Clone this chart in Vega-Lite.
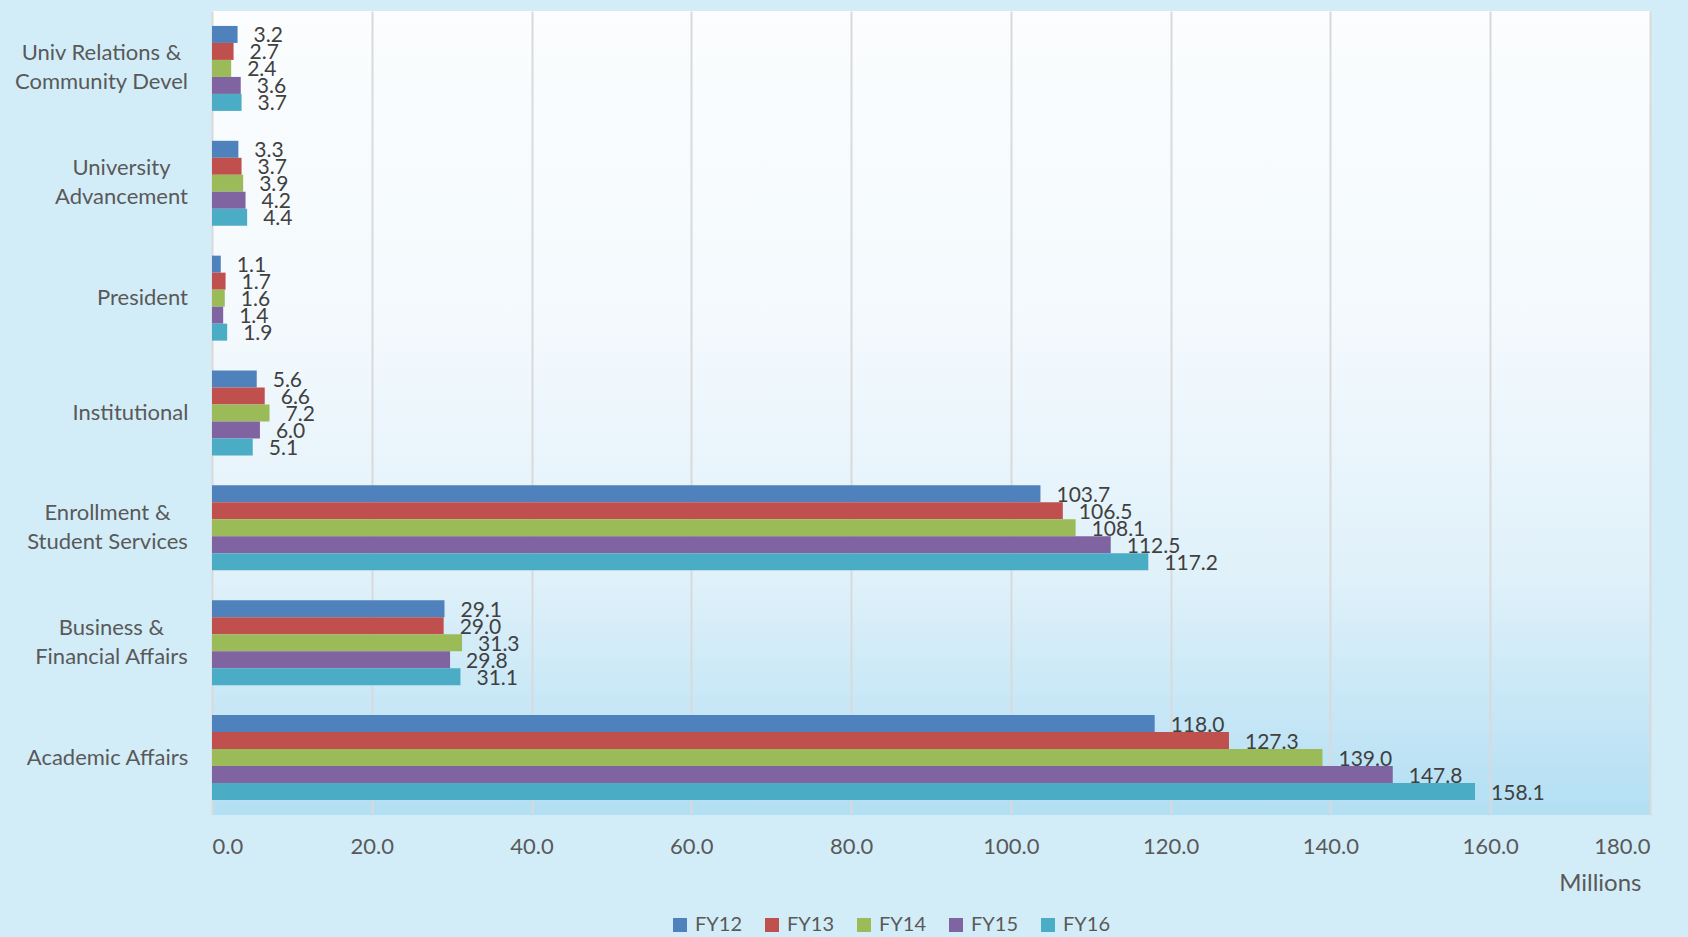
{
  "$schema": "https://vega.github.io/schema/vega-lite/v6.json",
  "width": 1438,
  "height": 804,
  "autosize": {"type": "none"},
  "padding": {"left": 212, "top": 11, "right": 38, "bottom": 122},
  "background": "#d3edf8",
  "config": {
    "font": "Lato",
    "view": {
      "stroke": null,
      "fill": {"gradient": "linear", "x1": 0, "y1": 0, "x2": 0, "y2": 1,
        "stops": [
          {"offset": 0, "color": "#fbfdfe"},
          {"offset": 0.4, "color": "#f3f9fd"},
          {"offset": 0.7, "color": "#e0f1fa"},
          {"offset": 1, "color": "#b3dff3"}
        ]}
    }
  },
  "data": {
    "values": [
      {"unit": "Univ Relations & Community Devel", "fy": "FY12", "value": 3.2},
      {"unit": "Univ Relations & Community Devel", "fy": "FY13", "value": 2.7},
      {"unit": "Univ Relations & Community Devel", "fy": "FY14", "value": 2.4},
      {"unit": "Univ Relations & Community Devel", "fy": "FY15", "value": 3.6},
      {"unit": "Univ Relations & Community Devel", "fy": "FY16", "value": 3.7},
      {"unit": "University Advancement", "fy": "FY12", "value": 3.3},
      {"unit": "University Advancement", "fy": "FY13", "value": 3.7},
      {"unit": "University Advancement", "fy": "FY14", "value": 3.9},
      {"unit": "University Advancement", "fy": "FY15", "value": 4.2},
      {"unit": "University Advancement", "fy": "FY16", "value": 4.4},
      {"unit": "President", "fy": "FY12", "value": 1.1},
      {"unit": "President", "fy": "FY13", "value": 1.7},
      {"unit": "President", "fy": "FY14", "value": 1.6},
      {"unit": "President", "fy": "FY15", "value": 1.4},
      {"unit": "President", "fy": "FY16", "value": 1.9},
      {"unit": "Institutional", "fy": "FY12", "value": 5.6},
      {"unit": "Institutional", "fy": "FY13", "value": 6.6},
      {"unit": "Institutional", "fy": "FY14", "value": 7.2},
      {"unit": "Institutional", "fy": "FY15", "value": 6.0},
      {"unit": "Institutional", "fy": "FY16", "value": 5.1},
      {"unit": "Enrollment & Student Services", "fy": "FY12", "value": 103.7},
      {"unit": "Enrollment & Student Services", "fy": "FY13", "value": 106.5},
      {"unit": "Enrollment & Student Services", "fy": "FY14", "value": 108.1},
      {"unit": "Enrollment & Student Services", "fy": "FY15", "value": 112.5},
      {"unit": "Enrollment & Student Services", "fy": "FY16", "value": 117.2},
      {"unit": "Business & Financial Affairs", "fy": "FY12", "value": 29.1},
      {"unit": "Business & Financial Affairs", "fy": "FY13", "value": 29.0},
      {"unit": "Business & Financial Affairs", "fy": "FY14", "value": 31.3},
      {"unit": "Business & Financial Affairs", "fy": "FY15", "value": 29.8},
      {"unit": "Business & Financial Affairs", "fy": "FY16", "value": 31.1},
      {"unit": "Academic Affairs", "fy": "FY12", "value": 118.0},
      {"unit": "Academic Affairs", "fy": "FY13", "value": 127.3},
      {"unit": "Academic Affairs", "fy": "FY14", "value": 139.0},
      {"unit": "Academic Affairs", "fy": "FY15", "value": 147.8},
      {"unit": "Academic Affairs", "fy": "FY16", "value": 158.1}
    ]
  },
  "encoding": {
    "y": {
      "field": "unit",
      "type": "nominal",
      "sort": ["Univ Relations & Community Devel", "University Advancement", "President", "Institutional", "Enrollment & Student Services", "Business & Financial Affairs", "Academic Affairs"],
      "scale": {"paddingInner": 0.26, "paddingOuter": 0.13},
      "axis": {
        "title": null,
        "domain": false,
        "ticks": false,
        "tickSize": 0,
        "labelFontSize": 22,
        "labelColor": "#595959",
        "labelLineHeight": 29,
        "labelAlign": "center",
        "labelBaseline": "middle",
        "labelOffset": {
          "condition": [
            {"test": "datum.value == 'Univ Relations & Community Devel'", "value": -15},
            {"test": "datum.value == 'University Advancement'", "value": -15},
            {"test": "datum.value == 'Enrollment & Student Services'", "value": -15},
            {"test": "datum.value == 'Business & Financial Affairs'", "value": -15}
          ],
          "value": 0
        },
        "labelPadding": {
          "condition": [
            {"test": "datum.value == 'Univ Relations & Community Devel'", "value": 111},
            {"test": "datum.value == 'University Advancement'", "value": 91},
            {"test": "datum.value == 'President'", "value": 70},
            {"test": "datum.value == 'Institutional'", "value": 82},
            {"test": "datum.value == 'Enrollment & Student Services'", "value": 105},
            {"test": "datum.value == 'Business & Financial Affairs'", "value": 101}
          ],
          "value": 105
        },
        "labelExpr": "datum.label == 'Univ Relations & Community Devel' ? ['Univ Relations &', 'Community Devel'] : datum.label == 'University Advancement' ? ['University', 'Advancement'] : datum.label == 'Enrollment & Student Services' ? ['Enrollment &', 'Student Services'] : datum.label == 'Business & Financial Affairs' ? ['Business &', 'Financial Affairs'] : datum.label"
      }
    },
    "yOffset": {"field": "fy", "type": "nominal", "scale": {"paddingInner": 0, "paddingOuter": 0}},
    "x": {
      "field": "value",
      "type": "quantitative",
      "scale": {"domain": [0, 180], "nice": false},
      "axis": {
        "title": "Millions",
        "titleAnchor": "end",
        "titleAlign": "right",
        "titleX": 1429,
        "titleFontSize": 24,
        "titleFontWeight": "normal",
        "titleColor": "#595959",
        "titlePadding": 14,
        "values": [0, 20, 40, 60, 80, 100, 120, 140, 160, 180],
        "format": ".1f",
        "domain": false,
        "ticks": false,
        "tickSize": 0,
        "labelFontSize": 22,
        "labelColor": "#595959",
        "labelPadding": 21,
        "gridColor": "#d9d9d9",
        "gridWidth": 2
      }
    }
  },
  "layer": [
    {
      "mark": {"type": "bar"},
      "encoding": {
        "color": {
          "field": "fy",
          "type": "nominal",
          "scale": {"domain": ["FY12", "FY13", "FY14", "FY15", "FY16"], "range": ["#4f81bd", "#c0504d", "#9bbb59", "#8064a2", "#4bacc6"]},
          "legend": {
            "title": null,
            "orient": "none",
            "direction": "horizontal",
            "legendX": 458,
            "legendY": 904,
            "symbolType": "square",
            "symbolSize": 196,
            "symbolStrokeWidth": 0,
            "labelFontSize": 20,
            "labelColor": "#595959",
            "labelOffset": 5,
            "columnPadding": 20
          }
        }
      }
    },
    {
      "mark": {"type": "text", "align": "left", "baseline": "middle", "dx": 16, "dy": 2, "fontSize": 21, "color": "#404040"},
      "encoding": {
        "text": {"field": "value", "type": "quantitative", "format": ".1f"}
      }
    }
  ]
}
